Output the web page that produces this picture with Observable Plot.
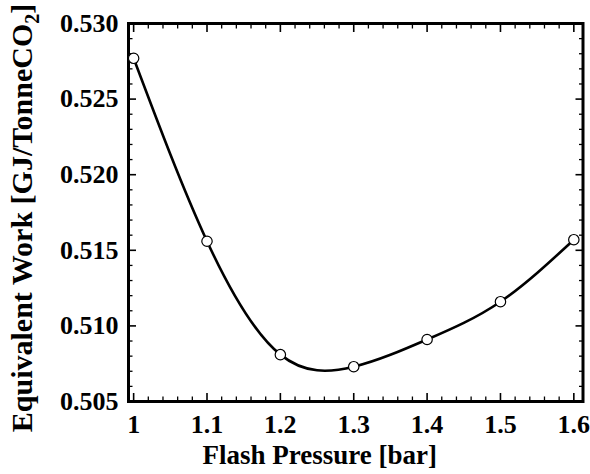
<!DOCTYPE html>
<html>
<head>
<meta charset="utf-8">
<script src="https://cdn.jsdelivr.net/npm/d3@7"></script>
<script src="https://cdn.jsdelivr.net/npm/@observablehq/plot@0.6"></script>
<style>
  html, body { margin: 0; padding: 0; background: #fff; }
  svg { display: block; }
</style>
</head>
<body>
<div id="chart"></div>
<script>
// Data
const pressure = [1.0, 1.1, 1.2, 1.3, 1.4, 1.5, 1.6];
const work = [0.5277, 0.5156, 0.5081, 0.5073, 0.5091, 0.5116, 0.5157];

const xMajorTicks = [1.0, 1.1, 1.2, 1.3, 1.4, 1.5, 1.6];
const xMinorTicks = d3.range(0, 31).map(i => +(1 + i * 0.02).toFixed(2)).filter(v => !xMajorTicks.includes(v) && v <= 1.6);
const yMajorTicks = [0.505, 0.510, 0.515, 0.520, 0.525, 0.530];
const yMinorTicks = d3.range(0, 26).map(i => +(0.505 + i * 0.001).toFixed(3)).filter(v => !yMajorTicks.includes(v));

const xTitle = "Flash Pressure [bar]";
const yTitleMain = "Equivalent Work [GJ/TonneCO";
const yTitleSub = "2";
const yTitleEnd = "]";

const data = pressure.map((p, i) => ({p, w: work[i]}));
const font = "Liberation Serif, Times New Roman, serif";

const chart = Plot.plot({
  width: 590,
  height: 474,
  marginLeft: 128,
  marginRight: 7.5,
  marginTop: 23,
  marginBottom: 73,
  style: {fontFamily: font, fontWeight: "bold", fontSize: "26px", color: "#000", background: "#fff"},
  x: {domain: [0.993, 1.6125]},
  y: {domain: [0.505, 0.530]},
  marks: [
    // labels
    Plot.axisX(xMajorTicks, {anchor: "bottom", tickSize: 0, tickPadding: 13.5, tickFormat: d => d3.format("~g")(d), fontSize: 26, fontWeight: "bold", label: null}),
    Plot.axisY(yMajorTicks, {anchor: "left", tickSize: 0, tickPadding: 10, tickFormat: d3.format(".3f"), fontSize: 26, fontWeight: "bold", label: null}),
    // inward major ticks
    Plot.axisX(xMajorTicks, {anchor: "bottom", tickSize: -8, tickFormat: () => "", label: null, strokeWidth: 1.6}),
    Plot.axisX(xMajorTicks, {anchor: "top", tickSize: -8, tickFormat: () => "", label: null, strokeWidth: 1.6}),
    Plot.axisY(yMajorTicks, {anchor: "left", tickSize: -8, tickFormat: () => "", label: null, strokeWidth: 1.6}),
    Plot.axisY(yMajorTicks, {anchor: "right", tickSize: -8, tickFormat: () => "", label: null, strokeWidth: 1.6}),
    // inward minor ticks
    Plot.axisX(xMinorTicks, {anchor: "bottom", tickSize: -4.5, tickFormat: () => "", label: null, strokeWidth: 1.3}),
    Plot.axisX(xMinorTicks, {anchor: "top", tickSize: -4.5, tickFormat: () => "", label: null, strokeWidth: 1.3}),
    Plot.axisY(yMinorTicks, {anchor: "left", tickSize: -4.5, tickFormat: () => "", label: null, strokeWidth: 1.3}),
    Plot.axisY(yMinorTicks, {anchor: "right", tickSize: -4.5, tickFormat: () => "", label: null, strokeWidth: 1.3}),
    Plot.frame({stroke: "#000", strokeWidth: 3}),
    Plot.line(data, {x: "p", y: "w", curve: "natural", stroke: "#000", strokeWidth: 2.6}),
    Plot.dot(data, {x: "p", y: "w", r: 5.2, fill: "#fff", stroke: "#000", strokeWidth: 1.2}),
    Plot.text([xTitle], {text: d => d, frameAnchor: "bottom", dx: -36, dy: 54, fontSize: 27, fontWeight: "bold", lineAnchor: "middle"})
  ]
});

// y-axis title with subscript
const svg = d3.select(chart);
const t = svg.append("text")
  .attr("transform", "translate(32,218) rotate(-90)")
  .attr("text-anchor", "middle")
  .attr("font-family", font)
  .attr("font-weight", "bold")
  .attr("font-size", 30)
  .attr("fill", "#000");
t.append("tspan").text(yTitleMain);
t.append("tspan").attr("dy", 7).attr("font-size", 20).text(yTitleSub);
t.append("tspan").attr("dy", -7).text(yTitleEnd);

document.getElementById("chart").appendChild(chart);
</script>
</body>
</html>
